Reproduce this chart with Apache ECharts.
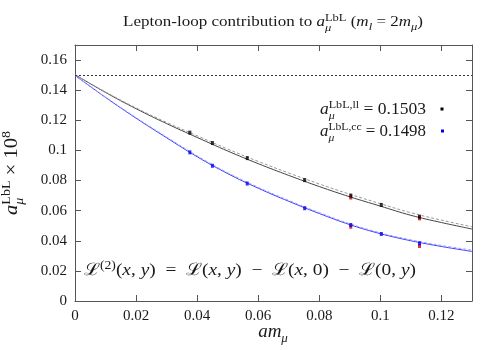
<!DOCTYPE html>
<html><head><meta charset="utf-8">
<script src="https://cdn.jsdelivr.net/npm/echarts@6/dist/echarts.min.js"></script>
<style>html,body{margin:0;padding:0;background:#fff}#c{width:500px;height:350px}</style>
</head><body><div id="c"></div>
<script>
// ---- data ----
const xCurve   = [0, 0.01, 0.02, 0.03, 0.04, 0.05, 0.06, 0.07, 0.08, 0.09, 0.10, 0.11, 0.12, 0.13];
const llSolid  = [0.1503, 0.1385, 0.1277, 0.1178, 0.1086, 0.0996, 0.0912, 0.0834, 0.0760, 0.0692, 0.0630, 0.0569, 0.0521, 0.0478];
const llDashed = [0.1503, 0.1388, 0.1282, 0.1186, 0.1097, 0.1009, 0.0927, 0.0850, 0.0777, 0.0709, 0.0646, 0.0586, 0.0537, 0.0493];
const ccSolid  = [0.1498, 0.1352, 0.1214, 0.1084, 0.0958, 0.0846, 0.0749, 0.0662, 0.0581, 0.0507, 0.0447, 0.0400, 0.0362, 0.0329];
const ccDashed = [0.1498, 0.1354, 0.1218, 0.1089, 0.0964, 0.0852, 0.0755, 0.0668, 0.0587, 0.0513, 0.0453, 0.0406, 0.0369, 0.0338];
const xPts  = [0.0376, 0.0450, 0.0564, 0.0752, 0.0903, 0.1003, 0.1128];
const llPts = [0.1118, 0.1049, 0.0949, 0.0803, 0.0700, 0.0638, 0.0560];
const ccPts = [0.0987, 0.0898, 0.0780, 0.0616, 0.0505, 0.0445, 0.0383];
const xRed  = [0.0903, 0.1128];
const llRed = [0.0687, 0.0549];
const ccRed = [0.0493, 0.0365];
const refLine = 0.15;
const llValue = '0.1503';
const ccValue = '0.1498';

// ---- helpers ----
const FAM = '"Liberation Serif", "DejaVu Serif", serif';
const TXT = '#1a1a1a';
const mctx = document.createElement('canvas').getContext('2d');
function fontStr(s){ return (s.it ? 'italic ' : '') + s.s + 'px ' + FAM; }
function measure(t, s){ mctx.font = fontStr(s); return mctx.measureText(t).width; }
function layout(segs){
  let x = 0; const out = [];
  for (const g of segs){
    if (g.stack){
      let w = 0;
      for (const p of g.stack){ out.push({t:p.t, s:p.s, it:p.it, x:x, dy:p.dy||0}); w = Math.max(w, measure(p.t, p)); }
      x += w;
    } else {
      out.push({t:g.t, s:g.s, it:g.it, x:x, dy:g.dy||0}); x += measure(g.t, g);
    }
  }
  return {out, width:x};
}
// width: target rendered width (widens the serif face toward the reference's wider TeX face)
function textGroup(segs, ax, by, align, rotation, width){
  const L = layout(segs);
  const off = align === 'center' ? -L.width/2 : (align === 'right' ? -L.width : 0);
  return {
    type:'group', x:ax, y:by, rotation: rotation || 0, scaleX: width ? width / L.width : 1, silent:true, z:100,
    children: L.out.map(o => ({
      type:'text', x:o.x + off, y:o.dy - 0.3*o.s,
      style:{text:o.t, font:fontStr(o), fill:TXT, align:'left', verticalAlign:'middle'}
    }))
  };
}
const pairs = (xs, ys) => xs.map((x,i) => [x, ys[i]]);

// ---- text blocks ----
const titleSegs = [
  {t:'Lepton-loop contribution to ', s:15},
  {t:'a', s:15, it:true},
  {stack:[{t:'μ', s:11, it:true, dy:4}, {t:'LbL', s:11, dy:-6}]},
  {t:' (', s:15}, {t:'m', s:15, it:true}, {t:'l', s:11, it:true, dy:3},
  {t:' = 2', s:15}, {t:'m', s:15, it:true}, {t:'μ', s:11, it:true, dy:3}, {t:')', s:15}
];
const leg1 = [{t:'a', s:16, it:true}, {stack:[{t:'μ', s:11, it:true, dy:4}, {t:'LbL,ll', s:11, dy:-7}]}, {t:' = ' + llValue, s:16}];
const leg2 = [{t:'a', s:16, it:true}, {stack:[{t:'μ', s:11, it:true, dy:4}, {t:'LbL,cc', s:11, dy:-7}]}, {t:' = ' + ccValue, s:16}];
const annSegs = [
  {t:'ℒ', s:17}, {t:'(2)', s:12, dy:-7}, {t:'(', s:17}, {t:'x', s:17, it:true}, {t:', ', s:17}, {t:'y', s:17, it:true},
  {t:')  =  ℒ(', s:17}, {t:'x', s:17, it:true}, {t:', ', s:17}, {t:'y', s:17, it:true},
  {t:')  −  ℒ(', s:17}, {t:'x', s:17, it:true}, {t:', 0)  −  ℒ(0, ', s:17}, {t:'y', s:17, it:true}, {t:')', s:17}
];
const yName = [{t:'a', s:19, it:true}, {stack:[{t:'μ', s:13, it:true, dy:5}, {t:'LbL', s:13, dy:-8}]}, {t:' × 10', s:19}, {t:'8', s:13, dy:-8}];
const xName = [{t:'am', s:19, it:true}, {t:'μ', s:13, it:true, dy:4}];

const AX = '#555';
function mkAxis(pos, show, extra){
  return Object.assign({
    type:'value', position:pos, min:0,
    axisLine:{show:true, onZero:false, lineStyle:{color:AX, width:1}},
    axisTick:{show:true, inside:true, length:6, lineStyle:{color:AX}},
    axisLabel:{show:show, showMaxLabel:false, color:TXT, fontFamily:FAM, fontSize:15},
    splitLine:{show:false}
  }, extra);
}

const chart = echarts.init(document.getElementById('c'), null, {renderer:'canvas'});
chart.setOption({
  animation:false,
  backgroundColor:'#fff',
  grid:{left:75, right:28, top:45, bottom:49},
  xAxis:[
    mkAxis('bottom', true, {max:0.13, interval:0.02}),
    mkAxis('top', false, {max:0.13, interval:0.02})
  ],
  yAxis:[
    mkAxis('left', true, {max:0.17, interval:0.02}),
    mkAxis('right', false, {max:0.17, interval:0.02})
  ],
  series:[
    {type:'line', data:pairs(xCurve, llSolid), showSymbol:false, smooth:0.4, lineStyle:{color:'#444', width:1}, z:3,
     markLine:{silent:true, symbol:'none', label:{show:false}, lineStyle:{color:'#333', type:[2,2], width:1}, data:[{yAxis:refLine}]}},
    {type:'line', data:pairs(xCurve, llDashed), showSymbol:false, smooth:0.4, lineStyle:{color:'#999', width:1, type:[3,2]}, z:3},
    {type:'line', data:pairs(xCurve, ccSolid), showSymbol:false, smooth:0.4, lineStyle:{color:'#3a3aff', width:1}, z:3},
    {type:'line', data:pairs(xCurve, ccDashed), showSymbol:false, smooth:0.4, lineStyle:{color:'#a0a0ff', width:1, type:[3,2]}, z:3},
    {type:'scatter', data:pairs(xRed, llRed), symbol:'rect', symbolSize:[3,4], itemStyle:{color:'#e00000'}, z:4},
    {type:'scatter', data:pairs(xRed, ccRed), symbol:'rect', symbolSize:[3,4], itemStyle:{color:'#e00000'}, z:4},
    {type:'scatter', data:pairs(xPts, llPts), symbol:'rect', symbolSize:[3,4], itemStyle:{color:'#000'}, z:5},
    {type:'scatter', data:pairs(xPts, ccPts), symbol:'rect', symbolSize:[3,4], itemStyle:{color:'#0000ee'}, z:5}
  ],
  graphic:[
    textGroup(titleSegs, 273, 27, 'center', 0, 300),
    textGroup(leg1, 426, 115, 'right', 0, 106),
    textGroup(leg2, 426, 137, 'right', 0, 106),
    {type:'rect', shape:{x:440.5, y:107.5, width:3, height:3}, style:{fill:'#000'}, silent:true},
    {type:'rect', shape:{x:441, y:129.5, width:3, height:3}, style:{fill:'#0000ee'}, silent:true},
    textGroup(annSegs, 84, 276, 'left', 0, 332),
    textGroup(yName, 18, 173, 'center', Math.PI/2, 84),
    textGroup(xName, 273, 338, 'center')
  ]
});
</script></body></html>
